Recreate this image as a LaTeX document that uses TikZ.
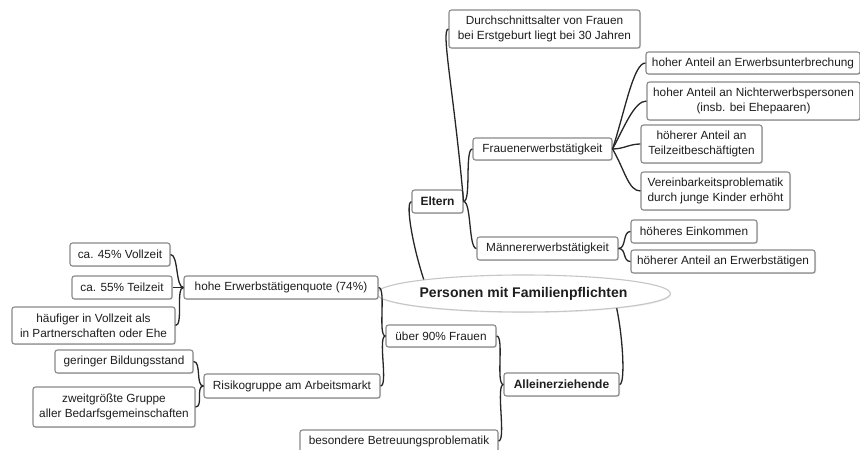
\documentclass[tikz,border=0pt]{standalone}
\usepackage{fontspec}
\setmainfont{Liberation Sans}
\usetikzlibrary{shadows,shapes.geometric}
\definecolor{boxline}{HTML}{8A8A8A}
\definecolor{ink}{HTML}{1E1E1E}
\definecolor{linkc}{HTML}{262626}
\begin{document}
\begin{tikzpicture}[x=1pt,y=1pt,
  box/.style={draw=boxline, line width=1.1pt, rounded corners=2.5pt, fill=white,
    text=ink, inner sep=0pt, align=center,
    font=\fontsize{11.8}{15}\selectfont,
    drop shadow={shadow xshift=1pt, shadow yshift=-1pt, opacity=0.25}},
  hub/.style={box, font=\fontsize{12}{15}\bfseries\selectfont},
  link/.style={draw=linkc, line width=1.3pt},
  tight/.style={out distance=8pt, in distance=8pt},
]
\useasboundingbox (0,0) rectangle (860,450);
\clip (0,0) rectangle (860,450);
\fill[white] (0,0) rectangle (860,450);

% central topic
\node[draw=gray!45, line width=1.1pt, fill=white, ellipse, inner sep=0pt,
  minimum width=235pt, minimum height=37pt, text=ink,
  font=\fontsize{14}{16}\bfseries\selectfont,
  drop shadow={shadow xshift=1pt, shadow yshift=-1pt, opacity=0.15}]
  (ell) at (523.5,156.5) {Personen mit Familienpflichten};

% Eltern branch
\node[hub, minimum width=51pt, minimum height=23pt] (eltern) at (437.5,248.5) {Eltern};
\node[box, minimum width=191pt, minimum height=38pt] (dur) at (544.5,421)
  {Durchschnittsalter von Frauen\\bei Erstgeburt liegt bei 30 Jahren};
\node[box, minimum width=139pt, minimum height=22pt] (frauen) at (542.5,301) {Frauenerwerbstätigkeit};
\node[box, minimum width=214pt, minimum height=22pt] (erw) at (753,387) {hoher Anteil an Erwerbsunterbrechung};
\node[box, minimum width=213pt, minimum height=38pt] (nicht) at (753.5,349)
  {hoher Anteil an Nichterwerbspersonen\\(insb. bei Ehepaaren)};
\node[box, minimum width=121pt, minimum height=38pt] (teil) at (701.5,306)
  {höherer Anteil an\\Teilzeitbeschäftigten};
\node[box, minimum width=149pt, minimum height=38pt] (verein) at (715.5,259)
  {Vereinbarkeitsproblematik\\durch junge Kinder erhöht};
\node[box, minimum width=141pt, minimum height=23pt] (maenner) at (547.5,201.5) {Männererwerbstätigkeit};
\node[box, minimum width=126pt, minimum height=23pt] (eink) at (694,218.5) {höheres Einkommen};
\node[box, minimum width=184pt, minimum height=23pt] (erwt) at (723,188.5) {höherer Anteil an Erwerbstätigen};

% Alleinerziehende branch
\node[hub, minimum width=115pt, minimum height=23pt] (allein) at (561.5,65.5) {Alleinerziehende};
\node[box, minimum width=110pt, minimum height=22pt] (ueber) at (441,114) {über 90\% Frauen};
\node[box, minimum width=198pt, minimum height=22pt] (betr) at (399,9) {besondere Betreuungsproblematik};
\node[box, minimum width=194pt, minimum height=23pt] (quote) at (281,162.5) {hohe Erwerbstätigenquote (74\%)};
\node[box, minimum width=100pt, minimum height=23pt] (v45) at (120,195.5) {ca. 45\% Vollzeit};
\node[box, minimum width=100pt, minimum height=23pt] (t55) at (122,162.5) {ca. 55\% Teilzeit};
\node[box, minimum width=163pt, minimum height=37pt] (haeuf) at (93.5,124.5)
  {häufiger in Vollzeit als\\in Partnerschaften oder Ehe};
\node[box, minimum width=176pt, minimum height=24pt] (risiko) at (292,64) {Risikogruppe am Arbeitsmarkt};
\node[box, minimum width=138pt, minimum height=23pt] (bild) at (124,88.5) {geringer Bildungsstand};
\node[box, minimum width=162pt, minimum height=40pt] (zweit) at (114,43)
  {zweitgrößte Gruppe\\aller Bedarfsgemeinschaften};

% connectors from the central topic
\draw[link] (ell.172) to[out=108, in=180, out distance=40pt, in distance=6pt] (eltern.west);
\draw[link] (ell.-9) to[out=-78, in=0, out distance=30pt, in distance=6pt] (allein.east);

% Eltern
\draw[link] (eltern.east) to[out=95, in=180, out distance=110pt, in distance=8pt] (dur.west);
\draw[link, tight] (eltern.east) to[out=0, in=180] (frauen.west);
\draw[link, tight] (eltern.east) to[out=0, in=180] (maenner.west);
\draw[link] (frauen.east) to[out=72, in=180, out distance=40pt, in distance=12pt] (erw.west);
\draw[link] (frauen.east) to[out=62, in=180, out distance=25pt, in distance=12pt] (nicht.west);
\draw[link] (frauen.east) to[out=0, in=180] (teil.west);
\draw[link] (frauen.east) to[out=-60, in=180, out distance=25pt, in distance=12pt] (verein.west);
\draw[link, tight] (maenner.east) to[out=0, in=180] (eink.west);
\draw[link, tight] (maenner.east) to[out=0, in=180] (erwt.west);

% Alleinerziehende
\draw[link, tight] (allein.west) to[out=180, in=0] (ueber.east);
\draw[link, tight] (allein.west) to[out=180, in=0] (betr.east);
\draw[link, tight] (ueber.west) to[out=180, in=0] (quote.east);
\draw[link, tight] (ueber.west) to[out=180, in=0] (risiko.east);
\draw[link, tight] (quote.west) to[out=180, in=0] (v45.east);
\draw[link, tight] (quote.west) to[out=180, in=0] (t55.east);
\draw[link, tight] (quote.west) to[out=180, in=0] (haeuf.east);
\draw[link, tight] (risiko.west) to[out=180, in=0] (bild.east);
\draw[link, tight] (risiko.west) to[out=180, in=0] (zweit.east);
\end{tikzpicture}
\end{document}
